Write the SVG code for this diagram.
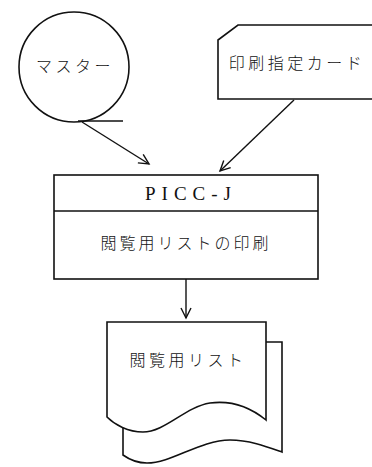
<svg xmlns="http://www.w3.org/2000/svg" width="372" height="467" viewBox="0 0 372 467">
<style>
.s{fill:#fff;stroke:#111;stroke-width:1.6}
.c{fill:none;stroke:#111;stroke-width:1.4}
.j{font-family:"Noto Sans CJK JP","Noto Sans",sans-serif;font-size:16px;fill:#111;text-anchor:middle;font-weight:300}
.p{font-family:"Liberation Serif",serif;font-size:19px;fill:#111;text-anchor:middle;letter-spacing:6px}
</style>
<defs>
<marker id="a" markerWidth="14" markerHeight="14" refX="11" refY="6" orient="auto" markerUnits="userSpaceOnUse">
<path d="M1,1 L11,6 L1,11" fill="none" stroke="#111" stroke-width="1.4"/>
</marker>
</defs>
<rect width="372" height="467" fill="#fff"/>
<g id="master">
<circle class="s" cx="74" cy="67" r="55"/>
<line class="c" x1="78" y1="121" x2="123" y2="121"/>
<text class="j" x="75" y="72" letter-spacing="3.5">マスター</text>
</g>
<g id="card">
<path class="s" d="M374,25 H238 L218,40 V99 H374"/>
<text class="j" x="297" y="69" letter-spacing="3.5">印刷指定カード</text>
</g>
<g id="process">
<rect class="s" x="54" y="175" width="264" height="104"/>
<line class="c" x1="54" y1="211" x2="318" y2="211"/>
<text class="p" x="191" y="200">PICC-J</text>
<text class="j" x="186" y="249" letter-spacing="3">閲覧用リストの印刷</text>
</g>
<g id="list">
<path class="s" d="M123,342 H282 V452 C268,447 250,440 230,440 C200,440 172,463 147,463 C138,463 130,460 123,455 Z"/>
<path class="s" d="M107,322 H266 V420 C250,407 232,400 210,403 C185,407 165,432 143,432 C128,432 115,425 107,417 Z"/>
<text class="j" x="188" y="366" letter-spacing="3.5">閲覧用リスト</text>
</g>
<g id="connectors">
<line class="c" x1="82" y1="122" x2="149" y2="164" marker-end="url(#a)"/>
<line class="c" x1="294" y1="100" x2="220" y2="171" marker-end="url(#a)"/>
<line class="c" x1="186" y1="279" x2="186" y2="318" marker-end="url(#a)"/>
</g>
</svg>
